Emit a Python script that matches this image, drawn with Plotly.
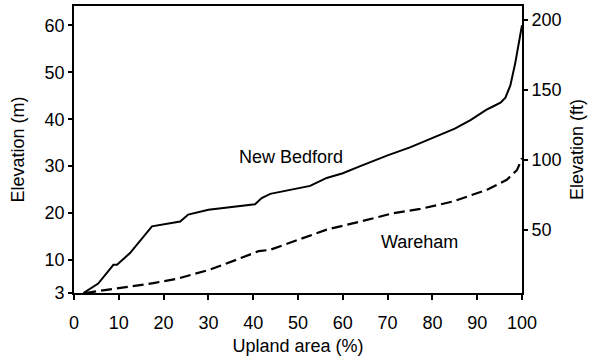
import plotly.graph_objects as go

# Data (elevation in metres vs. upland area %)
nb_x = [2.1, 5.4, 8.2, 8.8, 9.6, 12.5, 17.4, 23.7, 25.5, 30, 40.4, 41.9, 43.8, 49, 52.7,
        56.4, 60, 63.9, 70, 75, 80, 85, 88.5, 92, 93.5, 95.2, 96.3, 97.4, 98.5, 99.6, 100]
nb_y = [3.0, 5.0, 8.3, 9.0, 9.0, 11.5, 17.2, 18.2, 19.7, 20.7, 21.9, 23.2, 24.1, 25.1, 25.8,
        27.5, 28.5, 30.0, 32.3, 34.0, 36.0, 38.0, 39.8, 42.0, 42.7, 43.5, 44.6, 47.2, 52.0, 57.5, 60.0]

wa_x = [2.5, 10.3, 17.7, 22.9, 30.4, 36.3, 41.2, 43.8, 49, 56.4, 63.9, 71.3, 77.3, 81.8,
        84.7, 92.2, 96.6, 98.9, 100]
wa_y = [3.0, 4.1, 5.1, 6.0, 8.0, 10.1, 11.9, 12.2, 14.0, 16.5, 18.2, 20.0, 20.9, 21.8,
        22.5, 25.0, 27.1, 29.2, 31.7]

x_ticks = [0, 10, 20, 30, 40, 50, 60, 70, 80, 90, 100]
m_ticks = [3, 10, 20, 30, 40, 50, 60]
ft_ticks = [50, 100, 150, 200]

FONT = "Liberation Sans, Arial, sans-serif"
FS = 18

fig = go.Figure()
fig.add_trace(go.Scatter(x=nb_x, y=nb_y, mode="lines",
                         line=dict(color="black", width=2), showlegend=False))
fig.add_trace(go.Scatter(x=wa_x, y=wa_y, mode="lines",
                         line=dict(color="black", width=2.2, dash="11px,5px"), showlegend=False))
# invisible trace to activate right axis
fig.add_trace(go.Scatter(x=[None], y=[None], yaxis="y2", showlegend=False))

fig.add_annotation(x=48.5, y=32.0, text="New Bedford", showarrow=False,
                   font=dict(family=FONT, size=FS, color="black"))
fig.add_annotation(x=77.1, y=13.9, text="Wareham", showarrow=False,
                   font=dict(family=FONT, size=FS, color="black"))

fig.update_layout(
    width=592, height=362,
    margin=dict(l=74, r=70, t=6, b=69),
    paper_bgcolor="white", plot_bgcolor="white",
    font=dict(family=FONT, size=FS, color="black"),
    xaxis=dict(range=[0, 100], tickvals=x_ticks, ticks="outside", ticklen=5,
               tickwidth=1.5, tickcolor="black", showline=True, linecolor="black",
               linewidth=1.8, mirror=True, showgrid=False, zeroline=False,
               ticklabelstandoff=7, automargin=False,
               title=dict(text="Upland area (%)", standoff=8,
                          font=dict(family=FONT, size=FS))),
    yaxis=dict(range=[3, 64.1], tickvals=m_ticks, ticks="outside", ticklen=4,
               tickwidth=1.5, tickcolor="black", showline=True, linecolor="black",
               linewidth=1.8, showgrid=False, zeroline=False, automargin=False,
               title=dict(text="Elevation (m)", standoff=15,
                          font=dict(family=FONT, size=FS))),
    yaxis2=dict(range=[4.7, 209.8], tickvals=ft_ticks, overlaying="y", side="right",
                ticks="outside", ticklen=4, tickwidth=1.5, tickcolor="black",
                showline=True, linecolor="black", linewidth=1.8, showgrid=False,
                zeroline=False, automargin=False,
                title=dict(text="Elevation (ft)", standoff=10,
                           font=dict(family=FONT, size=FS))),
)

fig.write_html("out.html", config={"displayModeBar": False},
               post_script="document.body.style.margin='0';document.body.style.overflow='hidden';")
